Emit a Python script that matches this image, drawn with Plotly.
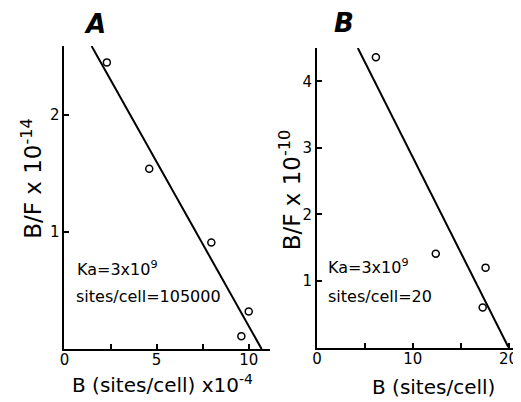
import plotly.graph_objects as go

# Panel A data
a_x = [2.3, 4.6, 7.97, 10.0, 9.6]
a_y = [2.45, 1.54, 0.91, 0.32, 0.11]
a_fit_x = [1.47, 10.7]
a_fit_y = [2.59, 0.0]
a_xticks = [0, 2.5, 5, 7.5, 10]
a_xtext = ["0", "", "5", "", "10"]
a_yticks = [1, 2]

# Panel B data
b_x = [6.15, 12.4, 17.6, 17.3]
b_y = [4.36, 1.41, 1.2, 0.6]
b_fit_x = [4.26, 20.0]
b_fit_y = [4.5, 0.0]
b_xticks = [0, 5, 10, 15, 20]
b_xtext = ["0", "", "10", "", "20"]
b_yticks = [1, 2, 3, 4]

# page body has an 8px margin; figure drawn inside the remaining area
OFF = 8
W, H = 521 - OFF, 402 - OFF
FONT = "DejaVu Sans"


def px(rx):
    return (rx - OFF) / W


def py(ry):
    return 1 - (ry - OFF) / H


fig = go.Figure()
mk = dict(symbol="circle-open", size=7, color="black", line=dict(width=1.5, color="black"))
fig.add_trace(go.Scatter(x=a_fit_x, y=a_fit_y, mode="lines", line=dict(color="black", width=2),
                         xaxis="x", yaxis="y", showlegend=False, cliponaxis=False))
fig.add_trace(go.Scatter(x=a_x, y=a_y, mode="markers", marker=mk, xaxis="x", yaxis="y",
                         showlegend=False, cliponaxis=False))
fig.add_trace(go.Scatter(x=b_fit_x, y=b_fit_y, mode="lines", line=dict(color="black", width=2),
                         xaxis="x2", yaxis="y2", showlegend=False, cliponaxis=False))
fig.add_trace(go.Scatter(x=b_x, y=b_y, mode="markers", marker=mk, xaxis="x2", yaxis="y2",
                         showlegend=False, cliponaxis=False))

ax_common = dict(showline=True, linecolor="black", linewidth=2, ticks="inside", ticklen=5,
                 tickwidth=1.5, tickcolor="black", showgrid=False, zeroline=False,
                 tickfont=dict(family=FONT, size=15, color="black"), ticklabeloverflow="allow")

fig.update_layout(
    width=W, height=H, margin=dict(l=0, r=0, t=0, b=0),
    paper_bgcolor="white", plot_bgcolor="white",
    xaxis=dict(domain=[px(60), px(268)], range=[0, 11.18], tickvals=a_xticks, ticktext=a_xtext,
               anchor="y", ticklabelstandoff=-4, **ax_common),
    yaxis=dict(domain=[py(349), py(46)], range=[0, 2.59], tickvals=a_yticks,
               anchor="x", **ax_common),
    xaxis2=dict(domain=[px(315), 1.0], range=[0, 21.3], tickvals=b_xticks, ticktext=b_xtext,
                anchor="y2", ticklabelstandoff=-4, **ax_common),
    yaxis2=dict(domain=[py(347.5), py(48)], range=[0, 4.5], tickvals=b_yticks,
                anchor="x2", **ax_common),
)


def ann(text, x, y, size, angle=0, xanchor="center", italic=False, bold=False):
    t = text
    if bold:
        t = "<b>" + t + "</b>"
    if italic:
        t = "<i>" + t + "</i>"
    fig.add_annotation(text=t, x=px(x), y=py(y), xref="paper", yref="paper",
                       showarrow=False, textangle=angle, xanchor=xanchor, yanchor="middle",
                       font=dict(family=FONT, size=size, color="black"))


ann("A", 91, 24, 26, italic=True, bold=True)
ann("B", 342, 23, 26, italic=True, bold=True)
ann("B/F x 10<sup>-14</sup>", 27, 178, 23, angle=-90)
ann("B/F x 10<sup>-10</sup>", 288, 190, 23, angle=-90)
ann("B (sites/cell) x10<sup>-4</sup>", 159, 384, 20)
ann("B (sites/cell)", 433, 387, 20)
ann("Ka=3x10<sup>9</sup>", 71, 268, 16, xanchor="left")
ann("sites/cell=105000", 70, 296, 16, xanchor="left")
ann("Ka=3x10<sup>9</sup>", 324, 266, 16, xanchor="left")
ann("sites/cell=20", 324, 296, 16, xanchor="left")

fig.write_html("out.html")
